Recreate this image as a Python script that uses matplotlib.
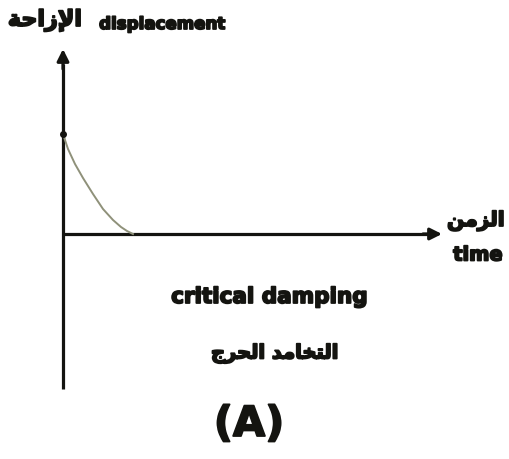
import matplotlib
matplotlib.use("Agg")
import matplotlib.pyplot as plt
import matplotlib.patheffects as pe

# critical damping curve (time, displacement)
time = [0.0, 0.5, 1.2, 2.0, 3.0, 4.0, 5.0, 5.8, 6.4, 7.0]
disp = [10.0, 8.5, 7.0, 5.6, 4.0, 2.5, 1.4, 0.7, 0.3, 0.0]

# Arabic words written as presentation forms in visual (left-to-right) order
ar_disp = "\uFE94\uFEA3\uFE8D\uFEAF\uFEF9\uFE8D"            # الإزاحة
ar_time = "\uFEE6\uFEE3\uFEB0\uFEDF\uFE8D"                  # الزمن
ar_crit = ("\uFE9D\uFEAE\uFEA4\uFEDF\uFE8D" + " " +
           "\uFEAA\uFEE3\uFE8E\uFEA8\uFE98\uFEDF\uFE8D")    # التخامد الحرج

ink = "#141410"
fam = ["DejaVu Sans"]
# thicken the bold glyphs a little
heavy = [pe.withStroke(linewidth=1.3, foreground=ink)]

fig = plt.figure(figsize=(5.1, 4.6), dpi=100)
ax = fig.add_axes([0, 0, 1, 1])
ax.set_xlim(-6.3, 44.7)
ax.set_ylim(-22.5, 23.5)
ax.axis("off")

# axes with arrow heads
ax.plot([0, 0], [-15.5, 17], color=ink, lw=2.3, solid_capstyle="butt")
ax.annotate("", xy=(0, 18.5), xytext=(0, 16.5),
            arrowprops=dict(arrowstyle="-|>,head_length=0.7,head_width=0.35",
                            color=ink, lw=2.3, shrinkA=0, shrinkB=0))
ax.plot([0, 36.5], [0, 0], color=ink, lw=2.3, solid_capstyle="butt")
ax.annotate("", xy=(37.9, 0), xytext=(36.0, 0),
            arrowprops=dict(arrowstyle="-|>,head_length=0.7,head_width=0.35",
                            color=ink, lw=2.3, shrinkA=0, shrinkB=0))

# decay curve
ax.plot(time, disp, color="#8f917a", lw=1.4)
ax.plot([0], [10.0], marker="o", ms=4, color=ink)


def label(x, y, s, size):
    ax.text(x, y, s, ha="center", va="center", fontsize=size,
            fontweight="bold", family=fam, color=ink, path_effects=heavy)


label(-1.8, 21.4, ar_disp, 16)
label(9.9, 21.0, "displacement", 12)
label(41.3, 1.3, ar_time, 14.5)
label(41.5, -2.1, "time", 14)
label(20.6, -6.3, "critical damping", 15.5)
label(21.2, -12.0, ar_crit, 14)
label(18.6, -19.0, "(A)", 30)

fig.savefig("out.png", dpi=100, facecolor="white")
